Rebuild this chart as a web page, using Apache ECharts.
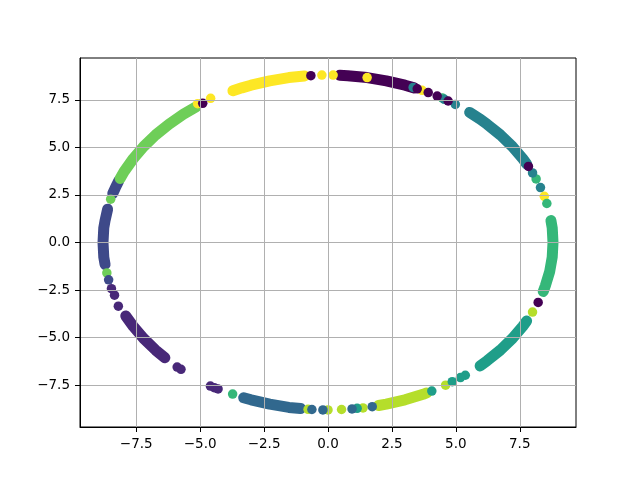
<!DOCTYPE html>
<html>
<head>
<meta charset="utf-8">
<script src="https://cdn.jsdelivr.net/npm/echarts@6/dist/echarts.min.js"></script>
<style>html,body{margin:0;padding:0;background:#fff;}#c{width:640px;height:480px;}</style>
</head>
<body>
<div id="c"></div>
<script>
// viridis colours for the 10 cluster labels
var clusterColors = ['#440154','#482878','#3e4989','#31688e','#26828e','#1f9e89','#35b779','#6ece58','#b5de2b','#fde725'];

// tick labels
var tickValues = [-7.5, -5.0, -2.5, 0.0, 2.5, 5.0, 7.5];

// dense arcs of points, per cluster
var band0 = [[0.46,8.79],[0.77,8.77],[1.53,8.67],[2.28,8.50],[3.01,8.27],[3.37,8.13]];
var band1 = [[-7.91,-3.86],[-7.62,-4.40],[-7.21,-5.05],[-6.74,-5.66],[-6.38,-6.06]];
var band2a = [[-8.62,1.75],[-8.72,1.15],[-8.77,0.77],[-8.80,0.00],[-8.77,-0.77],[-8.72,-1.15]];
var band2b = [[-8.19,3.23],[-8.32,2.87],[-8.42,2.57]];
var band3 = [[-3.30,-8.16],[-3.01,-8.27],[-2.28,-8.50],[-1.53,-8.67],[-1.07,-8.73]];
var band4 = [[5.54,6.84],[5.95,6.49],[6.22,6.22],[6.74,5.66],[7.21,5.05],[7.62,4.40],[7.77,4.13]];
var band5 = [[7.77,-4.13],[7.62,-4.40],[7.21,-5.05],[6.74,-5.66],[6.22,-6.22],[5.95,-6.49]];
var band6 = [[8.72,1.15],[8.77,0.77],[8.80,0.00],[8.77,-0.77],[8.67,-1.53],[8.50,-2.28],[8.42,-2.57]];
var band7 = [[-5.17,7.12],[-5.66,6.74],[-6.22,6.22],[-6.74,5.66],[-7.21,5.05],[-7.62,4.40],[-7.98,3.72],[-8.13,3.37]];
var band8 = [[1.98,-8.57],[2.28,-8.50],[3.01,-8.27],[3.72,-7.98],[3.86,-7.91]];
var band9 = [[-3.72,7.98],[-3.37,8.13],[-3.01,8.27],[-2.28,8.50],[-1.53,8.67],[-0.92,8.75]];

// isolated points, per cluster
var dots0 = [[-4.90,7.32],[-0.67,8.77],[3.49,8.08],[3.92,7.88],[4.27,7.70],[4.70,7.44],[7.84,4.00],[8.22,-3.15]];
var dots1 = [[-8.47,-2.43],[-8.35,-2.77],[-8.20,-3.35],[-5.90,-6.55],[-5.75,-6.67],[-4.60,-7.55],[-4.45,-7.63],[-4.30,-7.70]];
var dots2 = [[-8.58,-1.96]];
var dots3 = [[-0.63,-8.78],[-0.20,-8.80],[0.94,-8.75],[1.73,-8.63]];
var dots4 = [[3.33,8.15],[4.55,7.53],[4.98,7.26],[8.00,3.66],[8.31,2.89]];
var dots5 = [[5.37,-6.98],[5.18,-7.10],[4.86,-7.32],[4.06,-7.81],[1.14,-8.72]];
var dots6 = [[4.47,7.60],[8.14,3.34],[8.56,2.05],[-3.73,-7.97]];
var dots7 = [[-8.50,2.28],[-8.65,-1.60]];
var dots8 = [[-0.78,-8.77],[0.00,-8.80],[0.53,-8.78],[1.37,-8.70],[4.60,-7.50],[8.00,-3.66]];
var dots9 = [[-5.10,7.30],[-4.59,7.58],[-0.24,8.80],[0.20,8.80],[1.53,8.67],[3.68,8.00],[8.46,2.43]];

var bandSets = [[band0],[band1],[band2a,band2b],[band3],[band4],[band5],[band6],[band7],[band8],[band9]];
var dotSets = [dots0,dots1,dots2,dots3,dots4,dots5,dots6,dots7,dots8,dots9];

function fmt(v){
  var s = Number(v).toFixed(1);
  return s.replace('-', '\u2212');
}

var series = [];
for (var i = 0; i < bandSets.length; i++) {
  bandSets[i].forEach(function(b){
    series.push({
      type: 'line', data: b, symbol: 'none', z: 2, silent: true,
      lineStyle: {color: clusterColors[i], width: 11, cap: 'round', join: 'round'}
    });
  });
}
for (var j = dotSets.length - 1; j >= 0; j--) {
  series.push({
    type: 'scatter', data: dotSets[j], symbolSize: 9.5, z: 3,
    itemStyle: {color: clusterColors[j], opacity: 1}
  });
}

var axisCommon = {
  type: 'value', min: -9.7, max: 9.7, z: 10,
  axisLine: {show: true, onZero: false, lineStyle: {color: '#000', width: 1}},
  axisTick: {show: true, customValues: tickValues, length: 5, lineStyle: {color: '#000', width: 1}},
  axisLabel: {customValues: tickValues, formatter: fmt, color: '#000', fontFamily: 'DejaVu Sans', fontSize: 13.5, margin: 10},
  splitLine: {show: true, lineStyle: {color: '#b0b0b0', width: 1}}
};

var chart = echarts.init(document.getElementById('c'), null, {renderer: 'canvas'});
chart.setOption({
  animation: false,
  backgroundColor: '#fff',
  grid: {left: 80, top: 58, width: 496, height: 369, show: true, borderColor: '#000', borderWidth: 1, backgroundColor: 'transparent'},
  xAxis: Object.assign({}, axisCommon, {position: 'bottom'}),
  yAxis: Object.assign({}, axisCommon, {position: 'left'}),
  series: series
});
</script>
</body>
</html>
